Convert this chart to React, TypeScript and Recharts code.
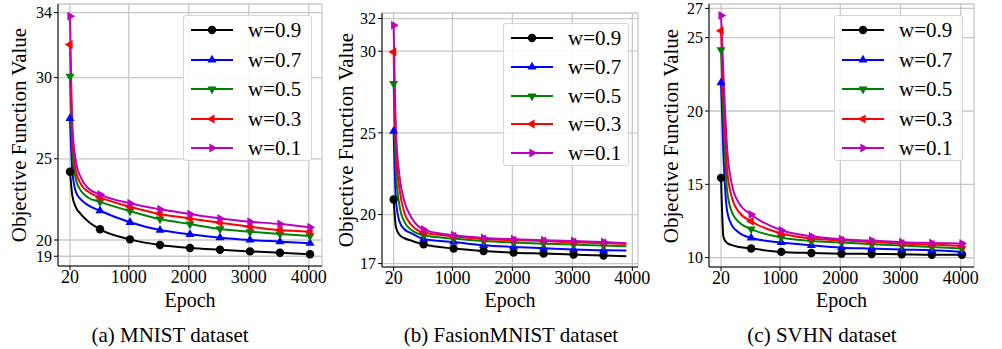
import { CartesianGrid, Line, LineChart, XAxis, YAxis } from 'recharts'

// epochs where values were read (markers every 500 from 20)
const epochs = [20, 60, 120, 200, 320, 520, 1020, 1520, 2020, 2520, 3020, 3520, 4020]
const epochsFashion = [20, 60, 120, 200, 320, 520, 1020, 1520, 2020, 2520, 3020, 3520, 3900]
const markerEpochs = [20, 520, 1020, 1520, 2020, 2520, 3020, 3520, 4020]
const xTicks = [20, 1000, 2000, 3000, 4000]

const seriesNames = ['w=0.9', 'w=0.7', 'w=0.5', 'w=0.3', 'w=0.1']
const seriesColors = ['#000000', '#0000ff', '#008000', '#ff0000', '#bf00bf']
const seriesMarkers = ['circle', 'up', 'down', 'left', 'right']

// (a) MNIST
const mnist09 = [24.2, 22.7, 22.0, 21.6, 21.15, 20.66, 20.04, 19.69, 19.51, 19.4, 19.3, 19.22, 19.12]
const mnist07 = [27.48, 24.2, 22.95, 22.5, 22.15, 21.8, 21.09, 20.61, 20.35, 20.14, 20.0, 19.9, 19.8]
const mnist05 = [30.08, 25.4, 23.7, 23.05, 22.62, 22.35, 21.78, 21.29, 20.98, 20.68, 20.51, 20.37, 20.25]
const mnist03 = [32.03, 26.3, 24.2, 23.45, 22.98, 22.62, 22.05, 21.6, 21.33, 21.06, 20.82, 20.61, 20.51]
const mnist01 = [33.77, 27.0, 24.8, 23.85, 23.2, 22.8, 22.26, 21.89, 21.6, 21.33, 21.13, 20.98, 20.78]

// (b) FashionMNIST
const fashion09 = [20.92, 19.2, 18.75, 18.55, 18.4, 18.18, 17.92, 17.77, 17.67, 17.61, 17.55, 17.49, 17.45]
const fashion07 = [25.1, 20.8, 19.55, 19.1, 18.85, 18.51, 18.32, 18.12, 18.02, 17.94, 17.86, 17.81, 17.8]
const fashion05 = [28.02, 22.5, 20.5, 19.55, 19.05, 18.73, 18.53, 18.38, 18.29, 18.22, 18.16, 18.1, 18.06]
const fashion03 = [29.96, 23.8, 21.5, 20.1, 19.35, 18.9, 18.67, 18.5, 18.43, 18.38, 18.3, 18.26, 18.2]
const fashion01 = [31.59, 25.0, 22.3, 20.8, 19.8, 19.08, 18.73, 18.57, 18.49, 18.43, 18.38, 18.32, 18.25]

// (c) SVHN
const svhn09 = [15.44, 11.4, 11.0, 10.85, 10.73, 10.62, 10.39, 10.32, 10.27, 10.25, 10.23, 10.2, 10.2]
const svhn07 = [21.93, 17.0, 13.2, 12.2, 11.7, 11.34, 11.03, 10.84, 10.68, 10.62, 10.55, 10.5, 10.39]
const svhn05 = [24.17, 19.5, 14.6, 13.1, 12.4, 11.95, 11.37, 11.13, 11.03, 10.91, 10.82, 10.72, 10.62]
const svhn03 = [25.47, 21.0, 16.0, 14.1, 13.1, 12.48, 11.64, 11.3, 11.18, 11.07, 10.96, 10.89, 10.8]
const svhn01 = [26.51, 22.5, 17.5, 15.0, 13.7, 12.94, 11.87, 11.46, 11.25, 11.16, 11.05, 11.0, 10.96]

const mnistTicks = [19, 20, 25, 30, 34]
const fashionTicks = [17, 20, 25, 30, 32]
const svhnTicks = [10, 15, 20, 25, 27]

const serif = '"Liberation Serif", serif'

function Marker({ shape, x, y, color }: { shape: string; x: number; y: number; color: string }) {
  if (shape === 'circle') return <circle cx={x} cy={y} r={4.2} fill={color} />
  const r = 5.2
  const a = 0.87 * r
  const b = 0.5 * r
  const pts: Record<string, number[][]> = {
    up: [[0, -r], [a, b], [-a, b]],
    down: [[0, r], [a, -b], [-a, -b]],
    left: [[-r, 0], [b, -a], [b, a]],
    right: [[r, 0], [-b, -a], [-b, a]],
  }
  const p = pts[shape].map(([dx, dy]) => `${x + dx},${y + dy}`).join(' ')
  return <polygon points={p} fill={color} />
}

const makeDot = (shape: string, color: string) => (props: any) => {
  const { cx, cy, payload, index } = props
  if (!markerEpochs.includes(payload.epoch)) return <g key={index} />
  return <Marker key={index} shape={shape} x={cx} y={cy} color={color} />
}

type PanelProps = {
  left: number
  width: number
  top: number
  bottom: number
  right: number
  xs: number[]
  series: number[][]
  xDomain: [number, number]
  yDomain: [number, number]
  yTicks: number[]
  caption: string
  captionX: number
  labelX: number
  legend: { left: number; top: number; width: number; height: number }
}

function Panel(p: PanelProps) {
  const rows = p.xs.map((e, i) => {
    const row: Record<string, number> = { epoch: e }
    p.series.forEach((s, k) => {
      row['s' + k] = s[i]
    })
    return row
  })
  const H = 349
  const frameLeft = p.left + 58
  const frameRight = p.left + p.width - p.right
  const rowGap = (p.legend.height - 28) / 4
  return (
    <>
      <div style={{ position: 'absolute', left: p.left, top: 0 }}>
        <LineChart
          width={p.width}
          height={H}
          data={rows}
          margin={{ top: p.top, right: p.right, left: 0, bottom: H - p.bottom - 24 }}
        >
          <CartesianGrid stroke='#c8c8c8' strokeWidth={1.3} />
          <XAxis
            dataKey='epoch'
            type='number'
            domain={p.xDomain}
            ticks={xTicks}
            interval={0}
            allowDataOverflow
            height={24}
            stroke='#000'
            tickSize={4}
            tickMargin={0}
            tick={{ fill: '#000', fontSize: 18, fontFamily: serif }}
          />
          <XAxis
            xAxisId='top'
            orientation='top'
            dataKey='epoch'
            type='number'
            domain={p.xDomain}
            allowDataOverflow
            height={0}
            tick={false}
            tickLine={false}
            stroke='#000'
          />
          <YAxis
            type='number'
            domain={p.yDomain}
            ticks={p.yTicks}
            interval={0}
            allowDataOverflow
            width={58}
            stroke='#000'
            tickSize={4}
            tickMargin={2}
            tick={{ fill: '#000', fontSize: 16, fontFamily: serif }}
          />
          <YAxis
            yAxisId='right'
            orientation='right'
            type='number'
            domain={p.yDomain}
            allowDataOverflow
            width={0}
            tick={false}
            tickLine={false}
            stroke='#000'
          />
          {p.series.map((_, k) => (
            <Line
              key={k}
              dataKey={'s' + k}
              type='monotone'
              stroke={seriesColors[k]}
              strokeWidth={2}
              dot={makeDot(seriesMarkers[k], seriesColors[k])}
              activeDot={false}
              isAnimationActive={false}
            />
          ))}
        </LineChart>
      </div>
      <div
        style={{
          position: 'absolute',
          left: p.labelX,
          top: (p.top + p.bottom) / 2,
          transform: 'translate(-50%, -50%) rotate(-90deg)',
          whiteSpace: 'nowrap',
          fontFamily: serif,
          fontSize: 21,
          lineHeight: 1,
        }}
      >
        Objective Function Value
      </div>
      <div
        style={{
          position: 'absolute',
          left: (frameLeft + frameRight) / 2,
          top: 300,
          transform: 'translate(-50%, -50%)',
          fontFamily: serif,
          fontSize: 20,
          lineHeight: 1,
        }}
      >
        Epoch
      </div>
      <div
        style={{
          position: 'absolute',
          left: p.captionX,
          top: 335,
          transform: 'translate(-50%, -50%)',
          whiteSpace: 'nowrap',
          fontFamily: serif,
          fontSize: 21,
          lineHeight: 1,
        }}
      >
        {p.caption}
      </div>
      <div
        style={{
          position: 'absolute',
          left: p.legend.left,
          top: p.legend.top,
          width: p.legend.width,
          height: p.legend.height,
          boxSizing: 'border-box',
          border: '1px solid #d6d6d6',
          borderRadius: 3,
          background: 'rgba(255,255,255,0.85)',
        }}
      >
        {seriesNames.map((name, k) => (
          <div
            key={name}
            style={{ position: 'absolute', left: 0, top: 14 + k * rowGap - 10, height: 20, width: '100%' }}
          >
            <svg width={50} height={20} style={{ position: 'absolute', left: 7, top: 0 }}>
              <line x1={0} y1={10} x2={42} y2={10} stroke={seriesColors[k]} strokeWidth={2} />
              <Marker shape={seriesMarkers[k]} x={21} y={10} color={seriesColors[k]} />
            </svg>
            <span
              style={{
                position: 'absolute',
                left: 64,
                top: 0,
                lineHeight: '20px',
                fontFamily: serif,
                fontSize: 21,
                whiteSpace: 'nowrap',
              }}
            >
              {name}
            </span>
          </div>
        ))}
      </div>
    </>
  )
}

export default function App() {
  return (
    <div
      style={{
        position: 'absolute',
        left: 0,
        top: 0,
        width: 1002,
        height: 349,
        background: '#fff',
      }}
    >
      <Panel
        left={0}
        width={340}
        top={4}
        bottom={266}
        right={18}
        xs={epochs}
        series={[mnist09, mnist07, mnist05, mnist03, mnist01]}
        xDomain={[-180, 4220]}
        yDomain={[18.4, 34.53]}
        yTicks={mnistTicks}
        caption='(a) MNIST dataset'
        captionX={170}
        labelX={19}
        legend={{ left: 183, top: 15, width: 129, height: 146 }}
      />
      <Panel
        left={324}
        width={330}
        top={13}
        bottom={267}
        right={16}
        xs={epochsFashion}
        series={[fashion09, fashion07, fashion05, fashion03, fashion01]}
        xDomain={[-174, 4094]}
        yDomain={[16.79, 32.34]}
        yTicks={fashionTicks}
        caption='(b) FasionMNIST dataset'
        captionX={511}
        labelX={346}
        legend={{ left: 503, top: 23, width: 126, height: 143 }}
      />
      <Panel
        left={651}
        width={340}
        top={4}
        bottom={267}
        right={17}
        xs={epochs}
        series={[svhn09, svhn07, svhn05, svhn03, svhn01]}
        xDomain={[-180, 4220]}
        yDomain={[9.36, 27.3]}
        yTicks={svhnTicks}
        caption='(c) SVHN dataset'
        captionX={822}
        labelX={671}
        legend={{ left: 834, top: 15, width: 129, height: 146 }}
      />
    </div>
  )
}
